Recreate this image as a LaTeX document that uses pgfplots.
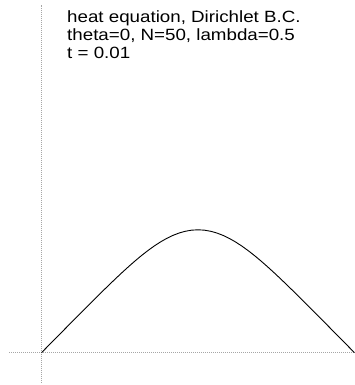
\documentclass[border=0pt]{standalone}
\usepackage{fontspec}
\setmainfont[FakeStretch=1.15]{Liberation Sans}
\usepackage{pgfplots}
\pgfplotsset{compat=1.18}
\begin{document}
\begin{tikzpicture}
\useasboundingbox (0,0) rectangle (355bp,385bp);
\begin{axis}[
  at={(9bp,2bp)}, anchor=south west,
  scale only axis,
  x=313bp, y=158.7bp,
  xmin=-0.1038, xmax=1.0016,
  ymin=-0.191, ymax=2.191,
  axis lines=none,
  clip=false,
]
\addplot[gray!70, line width=0.8bp, dash pattern=on 1bp off 1bp] coordinates {(-0.1038,0) (1.0016,0)};
\addplot[gray!70, line width=0.8bp, dash pattern=on 1bp off 1bp] coordinates {(0,-0.191) (0,2.191)};
\addplot[black, line width=0.9bp] coordinates {
(0.00,0.00000) (0.02,0.03996) (0.04,0.07991) (0.06,0.11986) (0.08,0.15976)
(0.10,0.19961) (0.12,0.23937) (0.14,0.27902) (0.16,0.31848) (0.18,0.35769)
(0.20,0.39655) (0.22,0.43493) (0.24,0.47267) (0.26,0.50958) (0.28,0.54541)
(0.30,0.57990) (0.32,0.61272) (0.34,0.64353) (0.36,0.67196) (0.38,0.69762)
(0.40,0.72014) (0.42,0.73915) (0.44,0.75431) (0.46,0.76536) (0.48,0.77207)
(0.50,0.77432)
(0.52,0.77207) (0.54,0.76536) (0.56,0.75431) (0.58,0.73915) (0.60,0.72014)
(0.62,0.69762) (0.64,0.67196) (0.66,0.64353) (0.68,0.61272) (0.70,0.57990)
(0.72,0.54541) (0.74,0.50958) (0.76,0.47267) (0.78,0.43493) (0.80,0.39655)
(0.82,0.35769) (0.84,0.31848) (0.86,0.27902) (0.88,0.23937) (0.90,0.19961)
(0.92,0.15976) (0.94,0.11986) (0.96,0.07991) (0.98,0.03996) (1.00,0.00000)
};
\end{axis}
\node[anchor=north west, inner sep=0pt, align=left, font=\fontsize{16.3bp}{18.3bp}\selectfont] at (67bp,375bp)
  {heat equation, Dirichlet B.C.\\theta=0, N=50, lambda=0.5\\t = 0.01};
\end{tikzpicture}
\end{document}
